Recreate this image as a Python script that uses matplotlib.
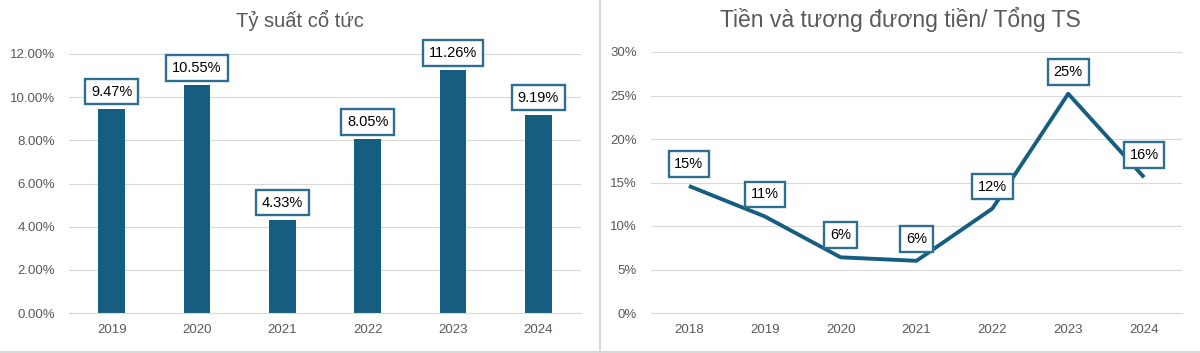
import matplotlib
matplotlib.use("Agg")
import matplotlib.pyplot as plt
from matplotlib.ticker import PercentFormatter
from matplotlib.lines import Line2D

plt.rcParams["font.family"] = ["Liberation Sans", "DejaVu Sans"]

# Left chart: dividend yield
div_years = ["2019", "2020", "2021", "2022", "2023", "2024"]
div_yield = [9.47, 10.55, 4.33, 8.05, 11.26, 9.19]

# Right chart: cash & equivalents / total assets
cash_years = ["2018", "2019", "2020", "2021", "2022", "2023", "2024"]
cash_ratio = [14.6, 11.1, 6.4, 6.0, 12.0, 25.2, 15.6]
cash_labels = ["15%", "11%", "6%", "6%", "12%", "25%", "16%"]

BAR = "#165E80"
EDGE = "#2E6E8E"
GRAY = "#595959"
GRID = "#D9D9D9"

W, H = 1200, 353
fig = plt.figure(figsize=(W / 100, H / 100), dpi=100)


def px_axes(x0, x1, y_top, y_bot):
    return fig.add_axes([x0 / W, (H - y_bot) / H, (x1 - x0) / W, (y_bot - y_top) / H])


def style(ax):
    for s in ax.spines.values():
        s.set_visible(False)
    ax.spines["bottom"].set_visible(True)
    ax.spines["bottom"].set_color(GRID)
    ax.grid(axis="y", color=GRID, linewidth=0.8)
    ax.set_axisbelow(True)
    ax.tick_params(length=0, colors=GRAY, labelsize=9.5)
    ax.tick_params(axis="x", pad=8)
    ax.tick_params(axis="y", pad=10)


box = dict(boxstyle="square,pad=0.4", fc="white", ec=EDGE, lw=1.7)

# --- left
ax1 = px_axes(69, 581, 54, 313)
style(ax1)
x1 = range(len(div_years))
ax1.bar(x1, div_yield, width=0.31, color=BAR, zorder=2)
ax1.set_xlim(-0.5, len(div_years) - 0.5)
ax1.set_ylim(0, 12)
ax1.set_yticks([0, 2, 4, 6, 8, 10, 12])
ax1.yaxis.set_major_formatter(PercentFormatter(decimals=2))
ax1.set_xticks(list(x1), div_years)
for i, v in enumerate(div_yield):
    ax1.annotate(f"{v:.2f}%", (i, v), xytext=(0, 17), textcoords="offset pixels",
                 ha="center", va="center", fontsize=10.5, color="black",
                 bbox=box, zorder=5, annotation_clip=False)
fig.text(300 / W, 1 - 20 / H, "Tỷ suất cổ tức", ha="center", va="center",
         fontsize=14.5, color=GRAY)

# --- right
ax2 = px_axes(651, 1182, 52, 313)
style(ax2)
x2 = range(len(cash_years))
ax2.plot(x2, cash_ratio, color=BAR, lw=2.8, solid_capstyle="butt", zorder=3)
ax2.set_xlim(-0.5, len(cash_years) - 0.5)
ax2.set_ylim(0, 30)
ax2.set_yticks([0, 5, 10, 15, 20, 25, 30])
ax2.yaxis.set_major_formatter(PercentFormatter(decimals=0))
ax2.set_xticks(list(x2), cash_years)
for i, (v, lab) in enumerate(zip(cash_ratio, cash_labels)):
    ax2.annotate(lab, (i, v), xytext=(0, 22), textcoords="offset pixels",
                 ha="center", va="center", fontsize=10.5, color="black",
                 bbox=box, zorder=5, annotation_clip=False)
fig.text(900 / W, 1 - 19 / H, "Tiền và tương đương tiền/ Tổng TS", ha="center",
         va="center", fontsize=16.5, color=GRAY)

# panel borders
fig.add_artist(Line2D([599.5 / W, 599.5 / W], [0, 1], color=GRID, lw=1.5))
fig.add_artist(Line2D([0, 1], [1.5 / H, 1.5 / H], color=GRID, lw=1.5))

fig.savefig("out.png", dpi=100)
